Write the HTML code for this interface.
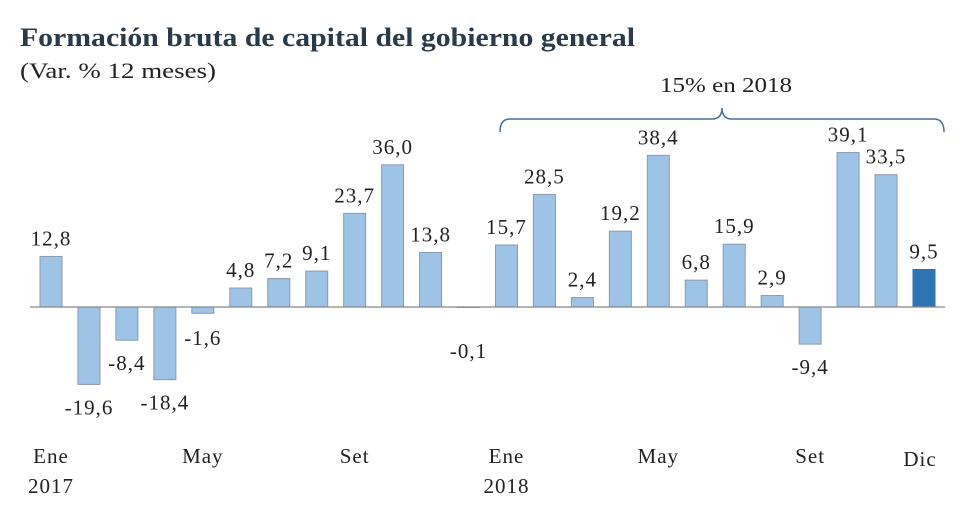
<!DOCTYPE html>
<html><head><meta charset="utf-8">
<style>
html,body{margin:0;padding:0;background:#fff;}
body{width:980px;height:520px;overflow:hidden;font-family:"Liberation Serif",serif;}
</style></head>
<body>
<svg width="980" height="520" viewBox="0 0 980 520">
<text x="20" y="46" font-size="26" font-weight="bold" fill="#2b3a4a" textLength="615" lengthAdjust="spacingAndGlyphs">Formación bruta de capital del gobierno general</text>
<text x="20" y="78" font-size="22" fill="#222" textLength="196" lengthAdjust="spacingAndGlyphs">(Var. % 12 meses)</text>
<g id="bars"></g>
<g id="labels"></g>
<line id="zero" x1="30" x2="945" y1="307" y2="307" stroke="#888" stroke-width="1.2"/>
<g id="xaxis"></g>
<path d="M500,132 Q500,119 510,119 L712,119 Q722,119 722,108 Q722,119 732,119 L934,119 Q944,119 944,132" fill="none" stroke="#4a6d96" stroke-width="1.5"/>
<text x="660" y="92" font-size="21" fill="#222" textLength="132" lengthAdjust="spacingAndGlyphs">15% en 2018</text>
</svg>
<script>
const categories = ["Ene17","Feb17","Mar17","Abr17","May17","Jun17","Jul17","Ago17","Set17","Oct17","Nov17","Dic17","Ene18","Feb18","Mar18","Abr18","May18","Jun18","Jul18","Ago18","Set18","Oct18","Nov18","Dic18"];
const values = [12.8,-19.6,-8.4,-18.4,-1.6,4.8,7.2,9.1,23.7,36.0,13.8,-0.1,15.7,28.5,2.4,19.2,38.4,6.8,15.9,2.9,-9.4,39.1,33.5,9.5];
const tickLabels = [[0,"Ene","2017"],[4,"May",""],[8,"Set",""],[12,"Ene","2018"],[16,"May",""],[20,"Set",""],[23,"Dic",""]];
const NS="http://www.w3.org/2000/svg";
const x0=51, step=(924-51)/23, bw=22, zeroY=307, k=3.95;
const xPos=i=>x0+i*step;
const yPos=v=>zeroY-v*k;
const bars=document.getElementById('bars'), labels=document.getElementById('labels'), xaxis=document.getElementById('xaxis');
values.forEach((v,i)=>{
  const r=document.createElementNS(NS,'rect');
  const y=Math.min(yPos(v),zeroY), h=Math.abs(v*k);
  r.setAttribute('x',xPos(i)-bw/2); r.setAttribute('y',y);
  r.setAttribute('width',bw); r.setAttribute('height',Math.max(h,0.5));
  r.setAttribute('fill', i===values.length-1?'#2e75b6':'#9dc3e6');
  r.setAttribute('stroke', i===values.length-1?'#2e75b6':'#8a9bb0');
  r.setAttribute('stroke-width','1');
  
  
  bars.appendChild(r);
  const t=document.createElementNS(NS,'text');
  t.setAttribute('x',xPos(i)); t.setAttribute('text-anchor','middle');
  t.setAttribute('font-size','21'); t.setAttribute('fill','#222');
  t.setAttribute('letter-spacing','1');
  let ly = v>=0 ? yPos(v)-11 : Math.max(yPos(v)+30, 345);
  if (v<0 && v>-0.5) ly = 358;
  t.setAttribute('y',ly);
  t.textContent=v.toFixed(1).replace('.',',');
  
  
  labels.appendChild(t);
});
tickLabels.forEach(([i,m,yr])=>{
  const t=document.createElementNS(NS,'text');
  t.setAttribute('x',xPos(i)+(i===23?-4:0)); t.setAttribute('y',i===23?466:463);
  t.setAttribute('text-anchor','middle'); t.setAttribute('font-size','21'); t.setAttribute('fill','#222');
  t.setAttribute('letter-spacing','1');
  t.textContent=m;
  
  
  xaxis.appendChild(t);
  if(yr){
    const t2=document.createElementNS(NS,'text');
    t2.setAttribute('x',xPos(i)); t2.setAttribute('y',493);
    t2.setAttribute('text-anchor','middle'); t2.setAttribute('font-size','21'); t2.setAttribute('fill','#222');
    t2.setAttribute('letter-spacing','1');
    t2.textContent=yr;
    
    
    xaxis.appendChild(t2);
  }
});
</script>
</body></html>
